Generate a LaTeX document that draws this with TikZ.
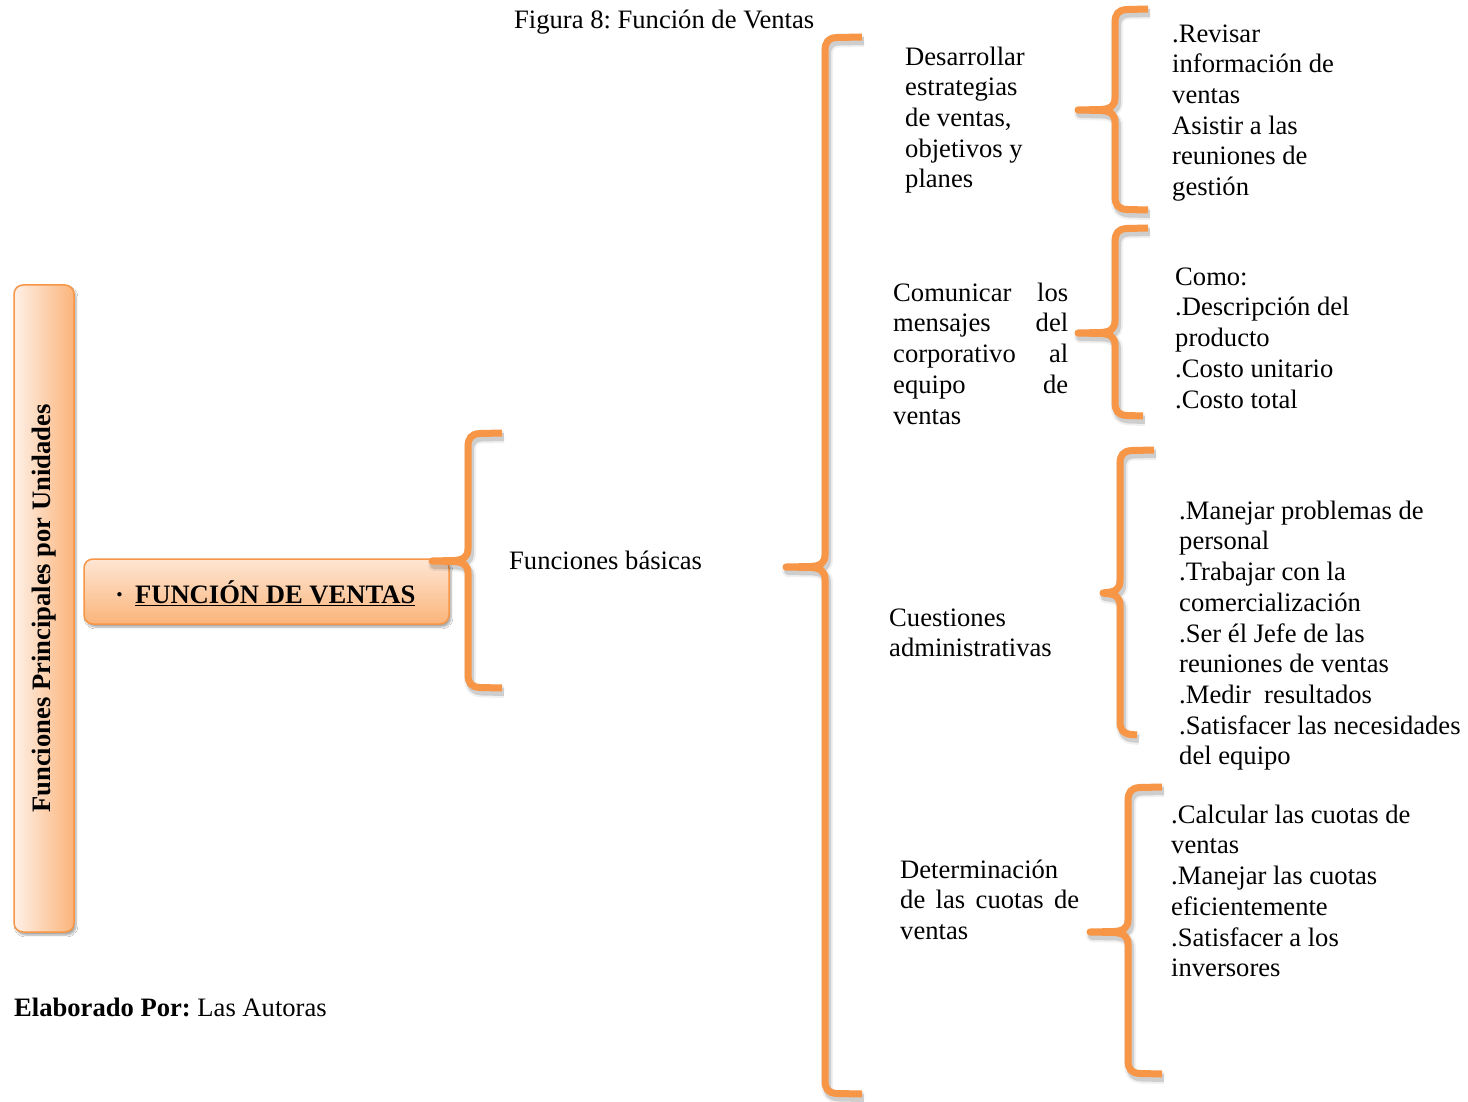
\documentclass[tikz,border=0pt]{standalone}
\usepackage{fontspec}
\setmainfont{Liberation Serif}
\usetikzlibrary{shadows.blur}
\frenchspacing

\definecolor{braceorange}{HTML}{F79646}
\definecolor{peachpale}{HTML}{FEF0E6}
\definecolor{peachdeep}{HTML}{FBB47B}
\definecolor{peachtop}{HTML}{FEE6D3}

\newcommand\bodysize{\fontsize{26.6pt}{30.7pt}\selectfont}

% One stroke of a curly brace.
% #1 style, #2 top end x, #3 top y, #4 spine x, #5 tip x, #6 tip y, #7 bottom y, #8 bottom end x
\newcommand\bracestroke[8]{%
  \draw[#1] (#2,#3) -- (#4+12,#3+0.5)
    .. controls (#4+3,#3+1) and (#4,#3+5) .. (#4,#3+14)
    -- (#4,#6-12) .. controls (#4,#6-4) and (#4-5,#6-1) .. (#4-14,#6-0.5)
    -- (#5,#6)
    -- (#4-14,#6+0.5) .. controls (#4-5,#6+1) and (#4,#6+4) .. (#4,#6+12)
    -- (#4,#7-14) .. controls (#4,#7-5) and (#4+3,#7-1) .. (#4+12,#7-0.5)
    -- (#8,#7);}

% Brace with its soft shadow
\newcommand\orangebrace[7]{%
  \bracestroke{line width=12pt, black, opacity=0.06, line join=round, shift={(2,4)}}{#1}{#2}{#3}{#4}{#5}{#6}{#7}
  \bracestroke{line width=8pt, black, opacity=0.14, line join=round, shift={(2,4)}}{#1}{#2}{#3}{#4}{#5}{#6}{#7}
  \bracestroke{bracestyle}{#1}{#2}{#3}{#4}{#5}{#6}{#7}}

\tikzset{
  bracestyle/.style={line width=7pt, braceorange, line join=round},
  txt/.style={anchor=north west, inner sep=0pt, align=left, font=\bodysize, yshift=21.49pt},
  orangebox/.style={draw=braceorange, line width=1.5pt, rounded corners=9pt,
    blur shadow={shadow xshift=2pt, shadow yshift=-3pt, shadow blur steps=6, shadow opacity=35}},
}

\begin{document}
\begin{tikzpicture}[x=1pt, y=-1pt]
\useasboundingbox[fill=white] (0,0) rectangle (1468,1102);

% title
\node[txt] (title) at (514,28) {\strut Figura 8: Función de Ventas};

% left column boxes
\node[orangebox, left color=peachpale, right color=peachdeep,
      minimum width=60pt, minimum height=647pt, inner sep=0pt] (units) at (44,608.5) {};
\node[rotate=90, inner sep=0pt, font=\bodysize\bfseries] (unitslabel) at (units.center)
  {Funciones Principales por Unidades};

\node[orangebox, top color=peachtop, bottom color=peachdeep,
      minimum width=365pt, minimum height=65pt, inner sep=0pt] (sales) at (266.5,591.5) {};
\node[anchor=base west, inner sep=0pt, font=\bodysize\bfseries] (saleslabel) at (115,603)
  {·\hspace{11pt}\underline{FUNCIÓN DE VENTAS}};

% braces
\orangebrace{502}{433}{468}{432}{561}{688}{502}
\orangebrace{862}{37}{825}{786}{567}{1094}{862}
\orangebrace{1148}{9}{1115}{1078}{110}{210}{1148}
\orangebrace{1148}{228}{1115}{1078}{333}{416}{1143}
\orangebrace{1154}{450}{1120}{1103}{593}{735}{1137}
\orangebrace{1162}{787}{1128}{1090}{932}{1074}{1162}

% second level
\node[txt] (basic) at (509,569) {\strut Funciones básicas};

% third level
\node[txt] (plans) at (905,65)
  {\strut Desarrollar\\estrategias\\de ventas,\\objetivos y\\planes};
\node[txt] (messages) at (893,301)
  {\strut\makebox[175pt][s]{Comunicar los}\\\makebox[175pt][s]{mensajes del}\\
   \makebox[175pt][s]{corporativo al}\\\makebox[175pt][s]{equipo de}\\ventas};
\node[txt] (admin) at (889,626) {\strut Cuestiones\\administrativas};
\node[txt] (quotas) at (900,878)
  {\strut Determinación\\\makebox[179pt][s]{de las cuotas de}\\ventas};

% details
\node[txt] (plansdet) at (1172,42)
  {\strut .Revisar\\información de\\ventas\\Asistir a las\\reuniones de\\gestión};
\node[txt] (messagesdet) at (1175,285)
  {\strut Como:\\.Descripción del\\producto\\.Costo unitario\\.Costo total};
\node[txt] (admindet) at (1179,519)
  {\strut .Manejar problemas de\\personal\\.Trabajar con la\\comercialización\\
   .Ser él Jefe de las\\reuniones de ventas\\.Medir\ \ resultados\\
   .Satisfacer las necesidades\\del equipo};
\node[txt] (quotasdet) at (1171,823)
  {\strut .Calcular las cuotas de\\ventas\\.Manejar las cuotas\\eficientemente\\
   .Satisfacer a los\\inversores};

% credit line
\node[txt] (credit) at (14,1016) {\strut\textbf{Elaborado Por:} Las Autoras};
\end{tikzpicture}
\end{document}
